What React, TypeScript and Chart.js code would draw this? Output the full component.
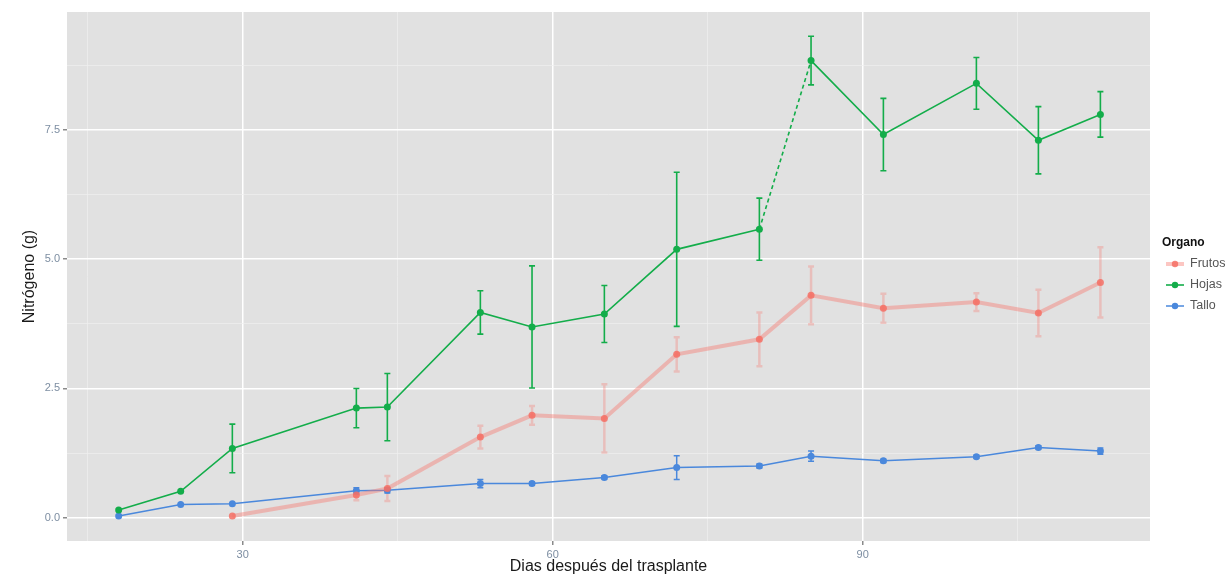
import React, { useEffect, useRef } from "react";
import { Chart, registerables } from "chart.js";

Chart.register(...registerables);

// ---- Data ----
const dias = [18, 24, 29, 41, 44, 53, 58, 65, 72, 80, 85, 92, 101, 107, 113];
const diasFrutos = [29, 41, 44, 53, 58, 65, 72, 80, 85, 92, 101, 107, 113];

const hojas = [0.15, 0.51, 1.34, 2.12, 2.14, 3.97, 3.69, 3.94, 5.19, 5.58, 8.84, 7.41, 8.4, 7.3, 7.8];
const hojasErr = [0, 0, 0.47, 0.38, 0.65, 0.42, 1.18, 0.55, 1.49, 0.6, 0.47, 0.7, 0.5, 0.65, 0.44];

const frutos = [0.035, 0.44, 0.565, 1.56, 1.98, 1.92, 3.16, 3.45, 4.3, 4.05, 4.17, 3.96, 4.55];
const frutosErr = [0, 0.1, 0.24, 0.22, 0.18, 0.66, 0.33, 0.52, 0.56, 0.28, 0.17, 0.45, 0.68];

const tallo = [0.035, 0.255, 0.27, 0.52, 0.53, 0.66, 0.66, 0.78, 0.97, 1.0, 1.19, 1.1, 1.18, 1.36, 1.29];
const talloErr = [0, 0, 0, 0.06, 0.05, 0.08, 0.03, 0.03, 0.23, 0.04, 0.1, 0.03, 0.03, 0.03, 0.06];

const xMajor = [30, 60, 90];
const xMinor = [15, 45, 75, 105];
const xTickLabels = ["30", "60", "90"];
const yMajor = [0, 2.5, 5, 7.5];
const yMinor = [1.25, 3.75, 6.25, 8.75];
const yTickLabels = ["0.0", "2.5", "5.0", "7.5"];

const legendTitle = "Organo";
const legendLabels = ["Frutos", "Hojas", "Tallo"];

const FONT = "'Liberation Sans', Arial, sans-serif";
const TICK_COLOR = "#7d8ea2";

const panelBg = {
  id: "panelBg",
  beforeDraw(chart: any) {
    const { ctx, chartArea } = chart;
    ctx.save();
    ctx.fillStyle = "#ffffff";
    ctx.fillRect(0, 0, chart.width, chart.height);
    ctx.fillStyle = "#e1e1e1";
    ctx.fillRect(chartArea.left, chartArea.top, chartArea.right - chartArea.left, chartArea.bottom - chartArea.top);
    ctx.restore();
  },
};

const errorBars = {
  id: "errorBars",
  beforeDatasetsDraw(chart: any) {
    const { ctx } = chart;
    const yScale = chart.scales.y;
    chart.data.datasets.forEach((ds: any, di: number) => {
      const meta = chart.getDatasetMeta(di);
      const errs: number[] = ds.errors || [];
      ctx.save();
      ctx.strokeStyle = ds.errColor;
      ctx.lineWidth = ds.errWidth;
      meta.data.forEach((pt: any, i: number) => {
        const e = errs[i];
        if (!e) return;
        const v = ds.data[i].y;
        const yt = yScale.getPixelForValue(v + e);
        const yb = yScale.getPixelForValue(v - e);
        const x = pt.x;
        ctx.beginPath();
        ctx.moveTo(x, yt);
        ctx.lineTo(x, yb);
        ctx.moveTo(x - 3, yt);
        ctx.lineTo(x + 3, yt);
        ctx.moveTo(x - 3, yb);
        ctx.lineTo(x + 3, yb);
        ctx.stroke();
      });
      ctx.restore();
    });
  },
};

const legendPlugin = {
  id: "ggLegend",
  afterDraw(chart: any) {
    const { ctx } = chart;
    const x0 = 1166;
    ctx.save();
    ctx.fillStyle = "#111";
    ctx.font = `bold 12px ${FONT}`;
    ctx.textBaseline = "middle";
    ctx.textAlign = "left";
    ctx.fillText(legendTitle, x0 - 4, 243);
    const ys = [264, 285, 306];
    chart.data.datasets.forEach((ds: any, i: number) => {
      const y = ys[i];
      ctx.strokeStyle = ds.borderColor;
      ctx.lineWidth = ds.borderWidth;
      ctx.beginPath();
      ctx.moveTo(x0, y);
      ctx.lineTo(x0 + 18, y);
      ctx.stroke();
      ctx.fillStyle = ds.pointBackgroundColor;
      ctx.beginPath();
      ctx.arc(x0 + 9, y, 3.2, 0, Math.PI * 2);
      ctx.fill();
      ctx.fillStyle = "#555";
      ctx.font = `12.5px ${FONT}`;
      ctx.fillText(legendLabels[i], x0 + 24, y);
    });
    ctx.restore();
  },
};

export default function App() {
  const ref = useRef<HTMLCanvasElement | null>(null);

  useEffect(() => {
    if (!ref.current) return;
    const chart = new Chart(ref.current, {
      type: "line",
      data: {
        datasets: [
          {
            label: legendLabels[0],
            data: diasFrutos.map((d, i) => ({ x: d, y: frutos[i] })),
            borderColor: "rgba(248,118,109,0.42)",
            borderWidth: 4,
            pointBackgroundColor: "rgba(245,110,100,0.85)",
            pointBorderWidth: 0,
            pointRadius: 3.5,
            errors: frutosErr,
            errColor: "rgba(248,118,109,0.32)",
            errWidth: 2.5,
          } as any,
          {
            label: legendLabels[1],
            data: dias.map((d, i) => ({ x: d, y: hojas[i] })),
            borderColor: "#13ad4a",
            borderWidth: 1.6,
            pointBackgroundColor: "#13ad4a",
            pointBorderWidth: 0,
            pointRadius: 3.5,
            errors: hojasErr,
            errColor: "#13ad4a",
            errWidth: 1.6,
            segment: {
              borderDash: (c: any) => (c.p0DataIndex === 9 ? [4, 3] : undefined),
            },
          } as any,
          {
            label: legendLabels[2],
            data: dias.map((d, i) => ({ x: d, y: tallo[i] })),
            borderColor: "#4a88dc",
            borderWidth: 1.5,
            pointBackgroundColor: "#4a88dc",
            pointBorderWidth: 0,
            pointRadius: 3.5,
            errors: talloErr,
            errColor: "#4a88dc",
            errWidth: 1.5,
          } as any,
        ],
      },
      options: {
        animation: false,
        responsive: false,
        maintainAspectRatio: false,
        layout: { padding: { top: 12, right: 77, left: 0, bottom: 0 } },
        plugins: {
          legend: { display: false },
          tooltip: { enabled: false },
        },
        scales: {
          x: {
            type: "linear",
            min: 13,
            max: 117.8,
            afterBuildTicks: (s: any) => {
              s.ticks = [...xMinor, ...xMajor].sort((a, b) => a - b).map((v) => ({ value: v }));
            },
            afterFit: (s: any) => {
              s.height = 35;
            },
            border: { display: false },
            grid: {
              color: (c: any) => (xMajor.includes(c.tick?.value) ? "#ffffff" : "#efefef"),
              lineWidth: (c: any) => (xMajor.includes(c.tick?.value) ? 1.5 : 0.7),
              tickColor: (c: any) => (xMajor.includes(c.tick?.value) ? "#8a8a8a" : "rgba(0,0,0,0)"),
              tickLength: 4,
            },
            ticks: {
              color: TICK_COLOR,
              font: { family: FONT, size: 11 },
              padding: 3,
              maxRotation: 0,
              autoSkip: false,
              callback: (v: any) => {
                const i = xMajor.indexOf(Number(v));
                return i >= 0 ? xTickLabels[i] : "";
              },
            },
            title: {
              display: true,
              text: "Dias después del trasplante",
              color: "#1a1a1a",
              font: { family: FONT, size: 16 },
              padding: { top: 0, bottom: 0 },
            },
          },
          y: {
            type: "linear",
            min: -0.45,
            max: 9.78,
            afterBuildTicks: (s: any) => {
              s.ticks = [...yMinor, ...yMajor].sort((a, b) => a - b).map((v) => ({ value: v }));
            },
            afterFit: (s: any) => {
              s.width = 67;
            },
            border: { display: false },
            grid: {
              color: (c: any) => (yMajor.includes(c.tick?.value) ? "#ffffff" : "#efefef"),
              lineWidth: (c: any) => (yMajor.includes(c.tick?.value) ? 1.5 : 0.7),
              tickColor: (c: any) => (yMajor.includes(c.tick?.value) ? "#8a8a8a" : "rgba(0,0,0,0)"),
              tickLength: 4,
            },
            ticks: {
              color: TICK_COLOR,
              font: { family: FONT, size: 11 },
              padding: 3,
              autoSkip: false,
              callback: (v: any) => {
                const i = yMajor.indexOf(Number(v));
                return i >= 0 ? yTickLabels[i] : "";
              },
            },
            title: {
              display: true,
              text: "Nitrógeno (g)",
              color: "#1a1a1a",
              font: { family: FONT, size: 16 },
              padding: { top: 20, bottom: 0 },
            },
          },
        },
      } as any,
      plugins: [panelBg, errorBars, legendPlugin],
    });
    return () => chart.destroy();
  }, []);

  return (
    <div style={{ position: "absolute", left: 0, top: 0, width: 1227, height: 576, background: "#fff" }}>
      <canvas ref={ref} width={1227} height={576} style={{ width: 1227, height: 576, display: "block" }} />
    </div>
  );
}
